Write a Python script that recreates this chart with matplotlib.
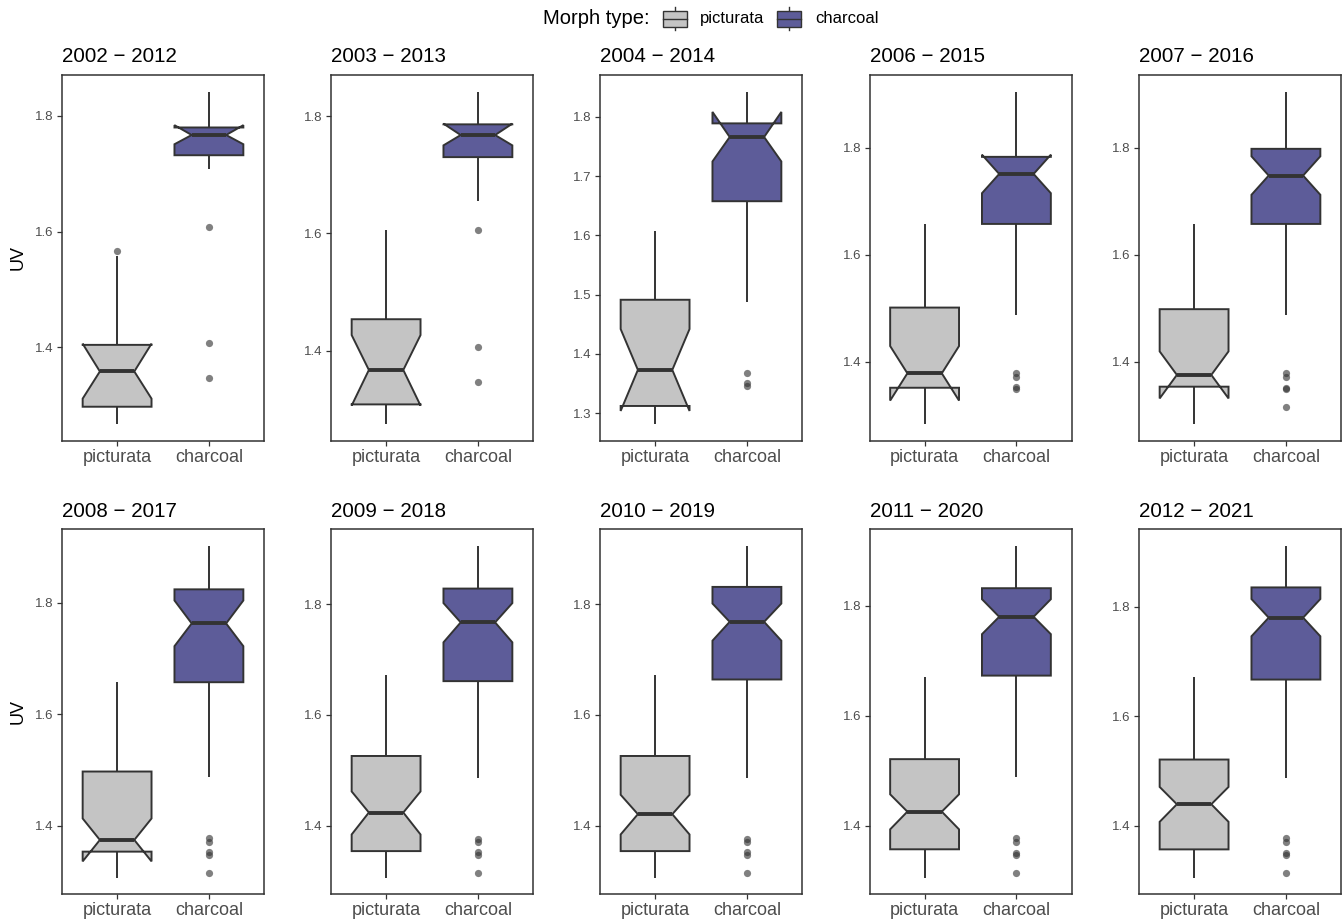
import matplotlib
matplotlib.use("Agg")
import matplotlib.pyplot as plt
from matplotlib.patches import Polygon, Rectangle
from matplotlib.ticker import MultipleLocator, FormatStrFormatter

plt.rcParams["font.family"] = ["Liberation Sans", "DejaVu Sans"]

# ---- data: notched box summaries of UV per 10-year window ----
periods = ["2002 \u2212 2012", "2003 \u2212 2013", "2004 \u2212 2014", "2006 \u2212 2015",
           "2007 \u2212 2016", "2008 \u2212 2017", "2009 \u2212 2018", "2010 \u2212 2019",
           "2011 \u2212 2020", "2012 \u2212 2021"]
morphs = ["picturata", "charcoal"]

# picturata
pic_whislo = [1.2665, 1.275, 1.2814, 1.2825, 1.2825, 1.3064, 1.3064, 1.3064, 1.3053, 1.3053]
pic_q1 = [1.297, 1.309, 1.3124, 1.351, 1.353, 1.3532, 1.3544, 1.3544, 1.357, 1.357]
pic_notchlo = [1.311, 1.307, 1.304, 1.327, 1.331, 1.3357, 1.3844, 1.3844, 1.3933, 1.4073]
pic_med = [1.358, 1.3676, 1.3732, 1.378, 1.375, 1.3742, 1.424, 1.421, 1.4255, 1.4394]
pic_notchhi = [1.406, 1.427, 1.442, 1.429, 1.419, 1.4127, 1.462, 1.456, 1.457, 1.471]
pic_q3 = [1.404, 1.454, 1.4914, 1.501, 1.498, 1.497, 1.526, 1.526, 1.521, 1.521]
pic_whishi = [1.557, 1.6065, 1.6069, 1.6575, 1.6575, 1.6579, 1.672, 1.672, 1.671, 1.6725]
pic_outliers = [[1.5665], [], [], [], [], [], [], [], [], []]

# charcoal
char_whislo = [1.709, 1.655, 1.487, 1.4875, 1.4875, 1.487, 1.487, 1.487, 1.488, 1.488]
char_q1 = [1.732, 1.730, 1.6575, 1.6575, 1.6575, 1.6573, 1.661, 1.664, 1.673, 1.667]
char_notchlo = [1.751, 1.750, 1.7245, 1.715, 1.712, 1.722, 1.731, 1.734, 1.7484, 1.746]
char_med = [1.767, 1.7676, 1.7657, 1.751, 1.748, 1.7628, 1.767, 1.768, 1.780, 1.780]
char_notchhi = [1.784, 1.787, 1.808, 1.787, 1.784, 1.804, 1.8018, 1.801, 1.812, 1.814]
char_q3 = [1.780, 1.7858, 1.7887, 1.783, 1.798, 1.824, 1.828, 1.831, 1.832, 1.8352]
char_whishi = [1.842, 1.8415, 1.8422, 1.905, 1.905, 1.902, 1.905, 1.905, 1.909, 1.911]
char_outliers = [
    [1.6075, 1.407, 1.347],
    [1.6065, 1.4074, 1.3476],
    [1.3687, 1.3518, 1.3467],
    [1.378, 1.371, 1.352, 1.348],
    [1.379, 1.371, 1.350, 1.348, 1.3156],
    [1.377, 1.371, 1.352, 1.347, 1.3155],
    [1.377, 1.371, 1.352, 1.347, 1.3155],
    [1.377, 1.371, 1.352, 1.347, 1.3155],
    [1.377, 1.371, 1.350, 1.3466, 1.3144],
    [1.377, 1.371, 1.350, 1.3466, 1.3144],
]

y_tick_step = [0.2, 0.2, 0.1, 0.2, 0.2, 0.2, 0.2, 0.2, 0.2, 0.2]

# ---- styling ----
fills = {"picturata": "#C4C4C4", "charcoal": "#5D5C99"}
edge = "#333333"
tick_grey = "#4D4D4D"
box_w = 0.75
notch_w = 0.5
lw = 1.4

W, H = 1344, 919
fig = plt.figure(figsize=(W / 100, H / 100), dpi=100)

col_left = [62, 331, 600, 869.5, 1139]
panel_w = 202
row_top = [75, 529.3]
row_bot = [441, 894.3]


def draw_box(ax, x, lo, q1, nlo, med, nhi, q3, hi, outs, color):
    # outliers
    if outs:
        ax.plot([x] * len(outs), outs, "o", ms=5.2, mfc=edge, mec="none",
                alpha=0.62, zorder=2)
    # whiskers
    ax.plot([x, x], [q3, hi], color=edge, lw=lw, solid_capstyle="butt", zorder=3)
    ax.plot([x, x], [q1, lo], color=edge, lw=lw, solid_capstyle="butt", zorder=3)
    xmin, xmax = x - box_w / 2, x + box_w / 2
    ind = (xmax - xmin) * (1 - notch_w) / 2
    verts = [(xmin, q3), (xmin, nhi), (xmin + ind, med), (xmin, nlo), (xmin, q1),
             (xmax, q1), (xmax, nlo), (xmax - ind, med), (xmax, nhi), (xmax, q3)]
    ax.add_patch(Polygon(verts, closed=True, facecolor=color, edgecolor=edge,
                         lw=lw, joinstyle="miter", zorder=4))
    ax.plot([xmin + ind, xmax - ind], [med, med], color=edge, lw=lw * 2.0,
            solid_capstyle="butt", zorder=5)


for i, period in enumerate(periods):
    r, c = divmod(i, 5)
    left = col_left[c] / W
    bottom = 1 - row_bot[r] / H
    height = (row_bot[r] - row_top[r]) / H
    ax = fig.add_axes([left, bottom, panel_w / W, height])

    groups = [
        (pic_whislo[i], pic_q1[i], pic_notchlo[i], pic_med[i], pic_notchhi[i],
         pic_q3[i], pic_whishi[i], pic_outliers[i], fills["picturata"]),
        (char_whislo[i], char_q1[i], char_notchlo[i], char_med[i], char_notchhi[i],
         char_q3[i], char_whishi[i], char_outliers[i], fills["charcoal"]),
    ]
    ymin, ymax = 10.0, -10.0
    for k, g in enumerate(groups):
        draw_box(ax, k + 1, *g)
        vals = [g[0], g[6]] + list(g[7])
        ymin, ymax = min(ymin, min(vals)), max(ymax, max(vals))
    pad = (ymax - ymin) * 0.05
    ax.set_ylim(ymin - pad, ymax + pad)
    ax.set_xlim(0.4, 2.6)

    ax.set_xticks([1, 2])
    ax.set_xticklabels(morphs)
    ax.yaxis.set_major_locator(MultipleLocator(y_tick_step[i]))
    ax.yaxis.set_major_formatter(FormatStrFormatter("%.1f"))
    ax.tick_params(axis="y", labelsize=9.5, labelcolor=tick_grey, color=edge,
                   length=3.5, width=0.9, pad=2.5)
    ax.tick_params(axis="x", labelsize=13, labelcolor=tick_grey, color=edge,
                   length=3.5, width=0.9, pad=2)
    for sp in ax.spines.values():
        sp.set_color(edge)
        sp.set_linewidth(1.1)
    ax.set_title(period, loc="left", fontsize=14.8, color="black", pad=9)
    if c == 0:
        ax.set_ylabel("UV", fontsize=13, color="black", labelpad=6)

# ---- legend strip at the top ----
lax = fig.add_axes([0, 0, 1, 1], facecolor="none")
lax.set_xlim(0, W)
lax.set_ylim(H, 0)
lax.axis("off")
ly = 18.5
lax.text(543, ly, "Morph type:", fontsize=14.5, va="center", ha="left")
keys = [(662.5, "picturata", 700), (777, "charcoal", 815)]
for kx, name, tx in keys:
    kw, kh = 24, 16
    cx = kx + kw / 2
    lax.plot([cx, cx], [ly - 11.5, ly + 11.5], color=edge, lw=1.0)
    lax.add_patch(Rectangle((kx, ly - kh / 2), kw, kh, facecolor=fills[name],
                            edgecolor=edge, lw=1.0, zorder=3))
    lax.plot([kx, kx + kw], [ly, ly], color=edge, lw=1.0, zorder=4)
    lax.text(tx, ly, name, fontsize=12, va="center", ha="left")

fig.savefig("out.png", dpi=100)
